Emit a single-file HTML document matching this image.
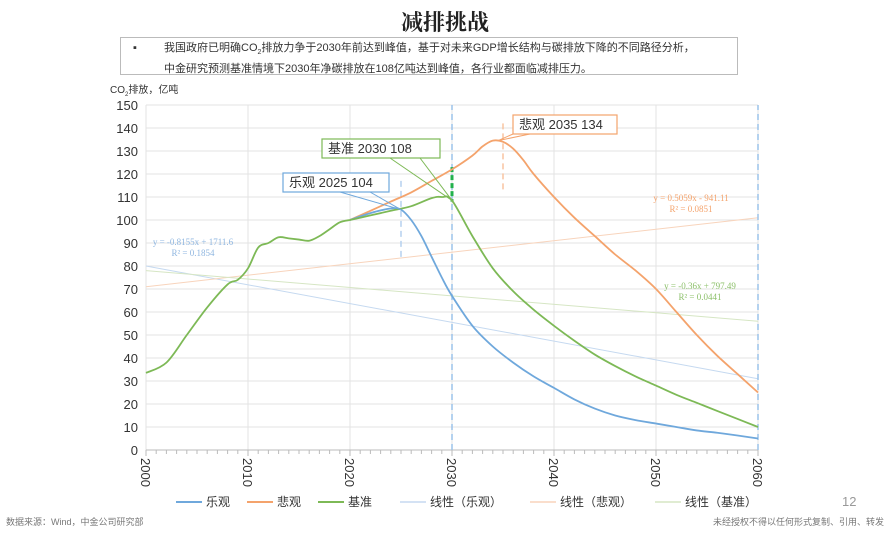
<!DOCTYPE html>
<html><head><meta charset="utf-8"><style>
body{margin:0;width:890px;height:535px;background:#fff;font-family:"Liberation Sans","Noto Sans CJK SC",sans-serif;overflow:hidden;position:relative}
.t{position:absolute}
</style></head><body>
<div class="t" style="left:0;width:890px;top:6px;text-align:center;font-size:22px;font-weight:bold;color:#222;font-family:'Noto Serif CJK SC','Noto Sans CJK SC',sans-serif">减排挑战</div>
<div class="t" style="left:120px;top:37px;width:618px;height:38px;border:1px solid #bbb;font-size:11px;color:#333;line-height:17px;padding:2px 0 0 0;box-sizing:border-box">
<span style="position:absolute;left:12px;top:2px">▪</span>
<div style="position:absolute;left:43px;top:2px;white-space:nowrap">我国政府已明确CO<sub style="font-size:7px">2</sub>排放力争于2030年前达到峰值，基于对未来GDP增长结构与碳排放下降的不同路径分析，<br>中金研究预测基准情境下2030年净碳排放在108亿吨达到峰值，各行业都面临减排压力。</div></div>
<div class="t" style="left:110px;top:81px;font-size:10px;color:#333">CO<sub style="font-size:6px">2</sub>排放，亿吨</div>
<div class="t" style="left:6px;top:515px;font-size:9px;color:#777">数据来源：Wind，中金公司研究部</div>
<div class="t" style="right:6px;top:515px;font-size:9px;color:#777">未经授权不得以任何形式复制、引用、转发</div>
<div class="t" style="left:842px;top:494px;font-size:13px;color:#999">12</div>
<svg id="c" width="890" height="535" style="position:absolute;left:0;top:0"></svg>
<script>
const years=[2000,2002,2004,2006,2008,2009,2010,2011,2012,2013,2014,2015,2016,2017,2018,2019,2020];
const histVals=[33.5,38,50,62,72,74,79,88,90,92.5,92,91.5,91,93,96,99,100];
const baseYears=[2020,2022,2024,2026,2028,2029,2030,2032,2034,2036,2038,2040,2042,2044,2046,2048,2050,2052,2054,2056,2058,2060];
const baseVals=[100,102,104,106,109.5,110,108.5,93,79,69,61,54,47.5,41.5,36.5,32,28,24,20.5,17,13.5,10];
const optYears=[2020,2022,2024,2025,2026,2027,2028,2029,2030,2032,2034,2036,2038,2040,2042,2044,2046,2048,2050,2052,2054,2056,2058,2060];
const optVals=[100,103,105,104.5,100,93,84,75,67,54,45,38,32,27,22,18,15,13,11.5,10,8.5,7.5,6.3,5];
const pesYears=[2020,2022,2024,2026,2028,2030,2032,2033,2034,2035,2036,2037,2038,2040,2042,2044,2046,2048,2050,2052,2054,2056,2058,2060];
const pesVals=[100,104,108,112,117,122,128,132,134.5,134,131,126,120,110,101,93,85,78,70,60,50,41,33,25];
const trendOpt=[80,31],trendPes=[71,101],trendBase=[78,56];
const yTicks=[0,10,20,30,40,50,60,70,80,90,100,110,120,130,140,150];
const xTicks=[2000,2010,2020,2030,2040,2050,2060];
const X=y=>146+(y-2000)*10.2, Y=v=>450-v*2.3;
const svg=document.getElementById('c');const NS='http://www.w3.org/2000/svg';
function el(t,a,p){const e=document.createElementNS(NS,t);for(const k in a)e.setAttribute(k,a[k]);(p||svg).appendChild(e);return e;}
yTicks.forEach(v=>{const l=el('line',{x1:146,x2:758,y1:Y(v),y2:Y(v),stroke:'#e3e3e3'});


const t=el('text',{x:138,y:Y(v)+5,'text-anchor':'end','font-size':13,fill:'#333'});t.textContent=v;

});
for(let yr=2000;yr<=2060;yr++){const major=yr%10==0;
if(major){const g=el('line',{x1:X(yr),x2:X(yr),y1:105,y2:450,stroke:'#e3e3e3'});

}
const tk=el('line',{x1:X(yr),x2:X(yr),y1:450,y2:major?456:454,stroke:'#bbb'});

}
const ax=el('line',{x1:146,x2:758,y1:450,y2:450,stroke:'#bbb'});


xTicks.forEach(yr=>{const t=el('text',{x:0,y:0,'font-size':13,fill:'#333',transform:`translate(${X(yr)-5},458) rotate(90)`});t.textContent=yr;

});
function trend(v,c,n){const l=el('line',{x1:X(2000),y1:Y(v[0]),x2:X(2060),y2:Y(v[1]),stroke:c,'stroke-width':1});

}
trend(trendOpt,'#c5d9f0','trend-optimistic');trend(trendPes,'#f8d4bc','trend-pessimistic');trend(trendBase,'#d6e6c4','trend-baseline');
function vd(yr,v0,v1,c,w,n,dash){const l=el('line',{x1:X(yr),x2:X(yr),y1:Y(v0),y2:Y(v1),stroke:c,'stroke-width':w,'stroke-dasharray':dash||'6,4'});

}
vd(2030,0,150,'#9cc3ea',1.5,'marker-2030');vd(2060,0,150,'#9cc3ea',1.5,'marker-2060');
vd(2025,117,83,'#b5d1ef',1.5,'marker-2025');vd(2035,142,112,'#f8c4a0',1.5,'marker-2035');
vd(2030,123,108,'#22b14c',3,'marker-2030-peak','5,3');
function smooth(pts){let d='M'+pts[0][0]+','+pts[0][1];
for(let i=0;i<pts.length-1;i++){const p0=pts[i-1]||pts[i],p1=pts[i],p2=pts[i+1],p3=pts[i+2]||p2;
const c1=[p1[0]+(p2[0]-p0[0])/6,p1[1]+(p2[1]-p0[1])/6],c2=[p2[0]-(p3[0]-p1[0])/6,p2[1]-(p3[1]-p1[1])/6];
d+=`C${c1[0]},${c1[1]} ${c2[0]},${c2[1]} ${p2[0]},${p2[1]}`;}return d;}
function line(xs,vs,c,n){const p=el('path',{d:smooth(xs.map((x,i)=>[X(x),Y(vs[i])])),fill:'none',stroke:c,'stroke-width':1.8,'stroke-linejoin':'round'});

}
line(pesYears,pesVals,'#f4a36c','series-pessimistic');
line(optYears,optVals,'#6fa8dc','series-optimistic');
line(years,histVals,'#7db956','series-history');
line(baseYears,baseVals,'#7db956','series-baseline');
function callout(x,y,w,c,txt,tx,tv,l1,l2,n){
el('line',{x1:l1,y1:y+19,x2:X(tx),y2:Y(tv),stroke:c});el('line',{x1:l2,y1:y+19,x2:X(tx),y2:Y(tv),stroke:c});
const r=el('rect',{x:x,y:y,width:w,height:19,fill:'#fff',stroke:c,'stroke-width':1.2});


const t=el('text',{x:x+6,y:y+14,'font-size':13,fill:'#333'});t.textContent=txt;}
callout(283,173,106,'#6fa8dc','乐观 2025  104',2025,104.5,340,370,'callout-optimistic');
callout(322,139,118,'#7db956','基准 2030  108',2030,108.5,390,420,'callout-baseline');
callout(513,115,104,'#f4a36c','悲观 2035  134',2034.5,134.5,513,530,'callout-pessimistic');
function eq(x,y,c,a,b,n){const t=el('text',{x:x,y:y,'font-size':9,fill:c,'font-family':'Liberation Serif','text-anchor':'middle'});t.textContent=a;


const t2=el('text',{x:x,y:y+11,'font-size':9,fill:c,'font-family':'Liberation Serif','text-anchor':'middle'});t2.textContent=b;}
eq(193,245,'#8fb6e0','y = -0.8155x + 1711.6','R² = 0.1854','eq-optimistic');
eq(691,201,'#f4a36c','y = 0.5059x - 941.11','R² = 0.0851','eq-pessimistic');
eq(700,289,'#8cc06a','y = -0.36x + 797.49','R² = 0.0441','eq-baseline');
const legNames=['乐观','悲观','基准','线性（乐观）','线性（悲观）','线性（基准）'];
const legCols=['#6fa8dc','#f4a36c','#7db956','#c5d9f0','#f8d4bc','#d6e6c4'];
const legX=[176,247,318,400,530,655];
legNames.forEach((n,i)=>{const g=el('g',{});


el('line',{x1:legX[i],x2:legX[i]+26,y1:502,y2:502,stroke:legCols[i],'stroke-width':i<3?2:1.5},g);
const t=el('text',{x:legX[i]+30,y:506,'font-size':12,fill:'#333'},g);t.textContent=n;});
</script>
</body></html>
